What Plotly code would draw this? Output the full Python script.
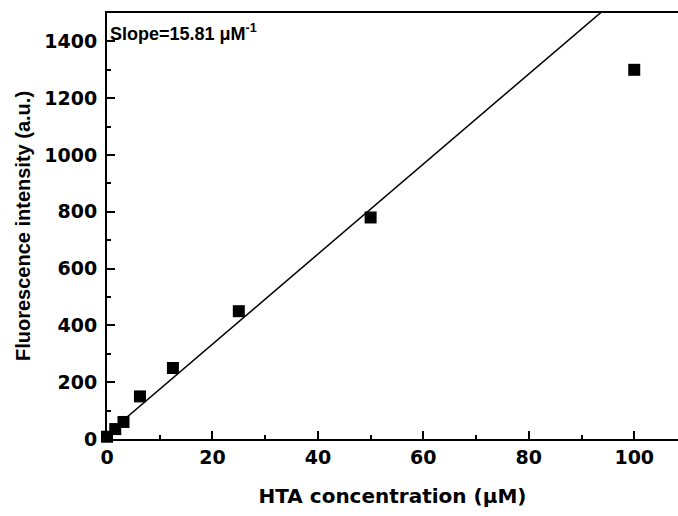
import plotly.graph_objects as go

conc = [0, 1.5625, 3.125, 6.25, 12.5, 25, 50, 100]
intensity = [8, 35, 60, 150, 250, 450, 780, 1300]
fit_x = [0, 100]
fit_slope = 15.85
fit_intercept = 17
fit_y = [fit_intercept + fit_slope * x for x in fit_x]
x_ticks = [0, 20, 40, 60, 80, 100]
y_ticks = [0, 200, 400, 600, 800, 1000, 1200, 1400]

font_h = "DejaVu Sans, sans-serif"
font_v = "Liberation Sans, Arial, sans-serif"

fig = go.Figure()
fig.add_trace(go.Scatter(x=fit_x, y=fit_y, mode="lines",
                         line=dict(color="black", width=1.5), showlegend=False))
fig.add_trace(go.Scatter(x=conc, y=intensity, mode="markers",
                         marker=dict(symbol="square", size=12, color="black"),
                         showlegend=False, cliponaxis=False))

axis_common = dict(showline=True, linecolor="black", linewidth=2,
                   ticks="inside", ticklen=8, tickwidth=2, tickcolor="black",
                   showgrid=False, zeroline=False, automargin=False,
                   tickfont=dict(family=font_h, size=19, color="black", weight="bold"))

fig.update_xaxes(range=[0, 108.3], tickvals=x_ticks, mirror=True,
                 minor=dict(ticks="inside", ticklen=4, tickwidth=2, dtick=10, tick0=0, tickcolor="black"),
                 title=dict(text="<b>HTA concentration (μM)</b>", font=dict(family=font_h, size=20, color="black"),
                            standoff=22),
                 **axis_common)
fig.update_yaxes(range=[0, 1500], tickvals=y_ticks, ticklabelstandoff=4, mirror=False,
                 minor=dict(ticks="inside", ticklen=4, tickwidth=2, dtick=100, tick0=0, tickcolor="black"),
                 title=dict(text="<b>Fluorescence intensity (a.u.)</b>", font=dict(family=font_v, size=20, color="black"),
                            standoff=8),
                 **axis_common)

fig.add_annotation(x=0, y=0.955, xref="paper", yref="paper", xanchor="left", yanchor="middle",
                   xshift=1, text="<b>Slope=15.81 μM<sup>-1</sup></b>", showarrow=False,
                   font=dict(family=font_v, size=18, color="black"))

fig.update_layout(width=678, height=516, plot_bgcolor="white", paper_bgcolor="white",
                  margin=dict(l=107, r=0, t=13, b=77))

fig.write_html("out.html", config={"displayModeBar": False},
               post_script="document.body.style.margin='0';document.body.style.overflow='hidden';")
